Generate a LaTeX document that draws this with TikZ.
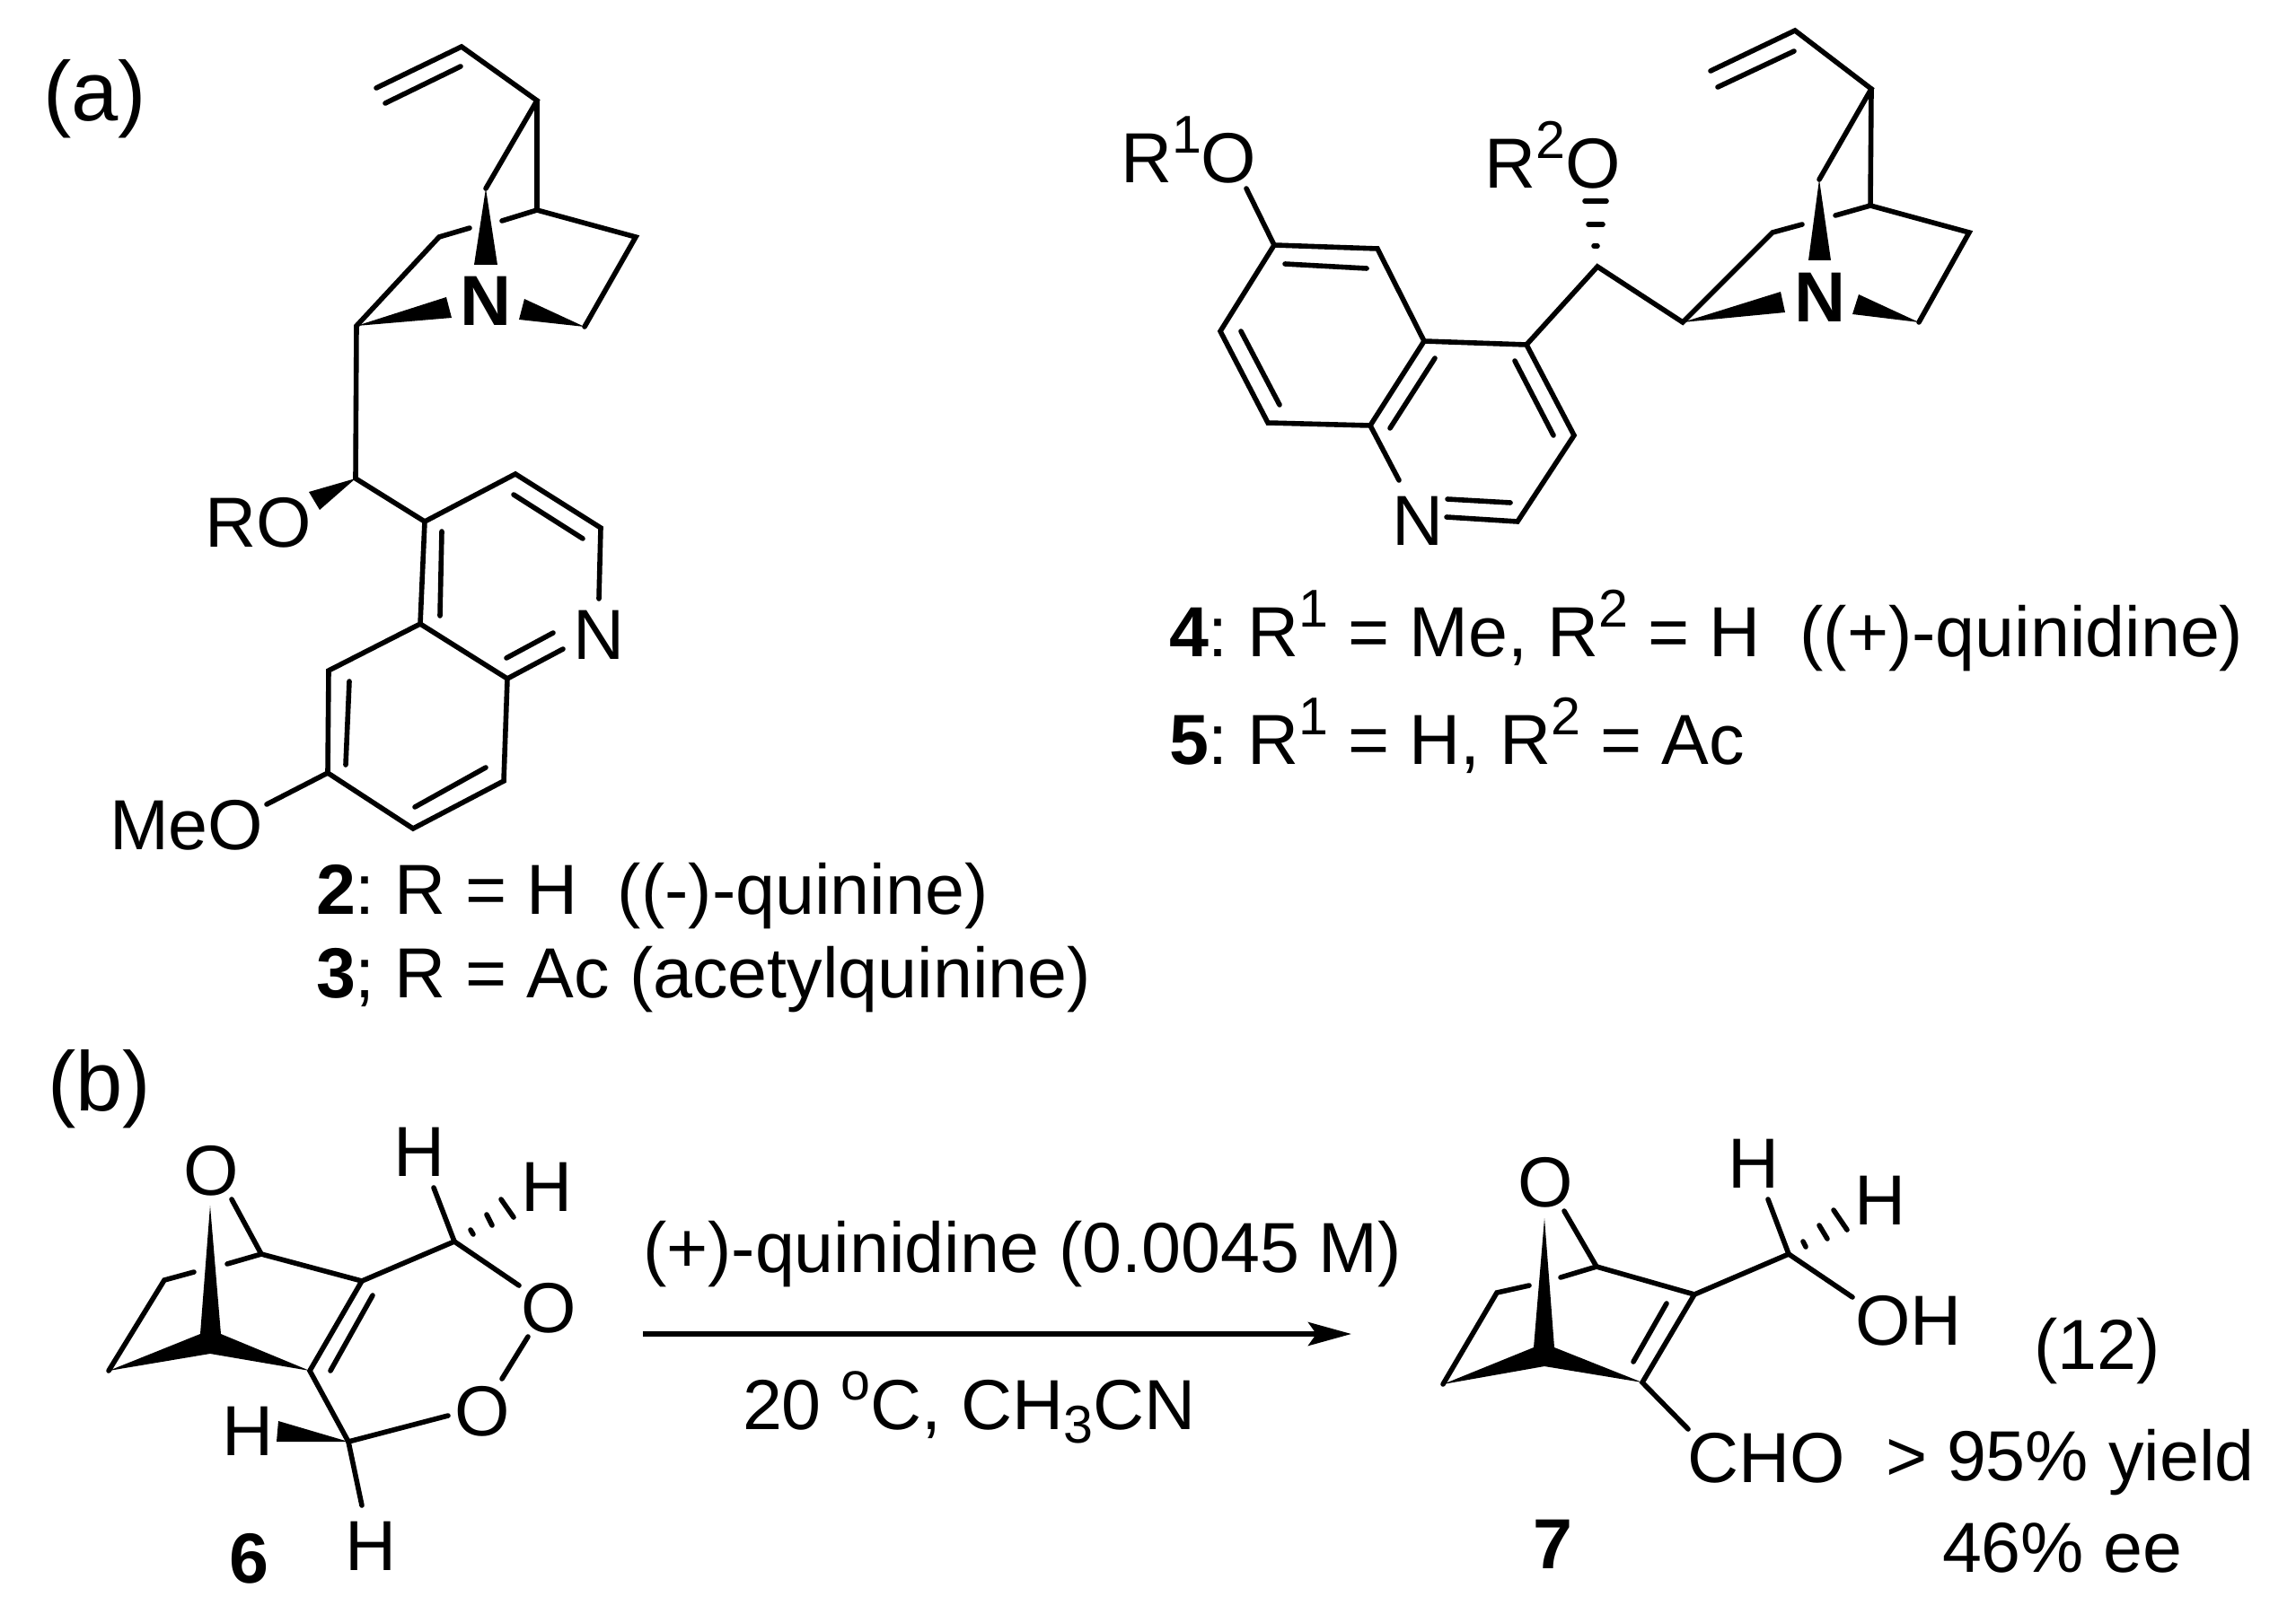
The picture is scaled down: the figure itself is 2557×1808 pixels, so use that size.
\documentclass[tikz,border=0pt]{standalone}
\usepackage{fontspec}
\setmainfont{Liberation Sans}
\usetikzlibrary{arrows.meta}
\frenchspacing\sfcode`\;=1500
\newcommand{\spr}[1]{\raisebox{16.5pt}{\fontsize{29.6}{30}\selectfont #1}}
\newcommand{\sbr}[1]{\raisebox{-7.5pt}{\fontsize{29.6}{30}\selectfont #1}}
\tikzset{
  lbl/.style={anchor=base west,inner sep=0pt,outer sep=0pt,font=\fontsize{39.5}{40}\selectfont},
  big/.style={lbl,font=\fontsize{47}{48}\selectfont},
  bond/.style={line width=2.8pt,line cap=round,line join=miter},
  hashb/.style={line width=2.8pt,line cap=round},
  wedge/.style={fill=black,draw=none},
  rxn/.style={line width=3pt,-{Stealth[length=24pt,width=13pt,inset=4.5pt]}}
}
\begin{document}
\begin{tikzpicture}[x=0.5pt,y=-0.5pt]
\useasboundingbox (0,0) rectangle (2557,1808);
\fill[white] (0,0) rectangle (2557,1808);
% ---------- text
\node[big] (la) at (48,135) {(a)};
\node[big] (lb) at (53,1237) {(b)};
\node[lbl] (cap2) at (352,1018) {\textbf{2}: R = H\ \ ((-)-quinine)};
\node[lbl] (cap3) at (352,1111) {\textbf{3}; R = Ac (acetylquinine)};
\node[lbl] (cap4) at (1302,731) {\textbf{4}: R\spr{1} = Me, R\spr{2} = H\ \ ((+)-quinidine)};
\node[lbl] (cap5) at (1302,851) {\textbf{5}: R\spr{1} = H, R\spr{2} = Ac};
\node[lbl] (cond1) at (716,1417) {(+)-quinidine (0.0045 M)};
\node[lbl] (cond2) at (827,1592) {20 \spr{o}C, CH\sbr{3}CN};
\node[lbl] (eq) at (2265,1525) {(12)};
\node[lbl] (yield) at (2100,1649) {> 95\% yield};
\node[lbl] (ee) at (2163,1751) {46\% ee};
% ---------- compound 2/3
\node[lbl] (aN) at (512,363) {\textbf{N}};
\node[lbl] (aRO) at (228,609) {RO};
\node[lbl] (aNp) at (638,734) {N};
\node[lbl] (aMeO) at (122,946) {MeO};
\coordinate (v1) at (419,98);
\coordinate (v2) at (514,52);
\coordinate (v1i) at (429,115);
\coordinate (v2i) at (513,74);
\coordinate (c3) at (598,112);
\coordinate (c7) at (541,210);
\coordinate (c4) at (598,234);
\coordinate (c4g) at (559,246);
\coordinate (c5) at (708,264);
\coordinate (c6) at (651,364);
\coordinate (c8) at (489,264);
\coordinate (c8g) at (523,254);
\coordinate (c2) at (397,363);
\coordinate (ch) at (396,533);
\coordinate (ra) at (473,581);
\coordinate (rb) at (574,528);
\coordinate (rc) at (669,588);
\coordinate (rcN) at (667,667);
\coordinate (rd) at (468,695);
\coordinate (re) at (565,756);
\coordinate (reN) at (627,723);
\coordinate (ri) at (561,870);
\coordinate (rh) at (460,923);
\coordinate (rg) at (365,861);
\coordinate (rf) at (366,747);
\coordinate (rgO) at (297,896);
\draw[bond] (v1) -- (v2) -- (c3) -- (c7);
\draw[bond] (v1i) -- (v2i);
\draw[bond] (c3) -- (c4) -- (c5) -- (c6);
\draw[bond] (c4) -- (c4g);
\draw[bond] (c8g) -- (c8) -- (c2) -- (ch) -- (ra) -- (rb) -- (rc) -- (rcN);
\draw[bond] (ra) -- (rd) -- (re) -- (ri) -- (rh) -- (rg) -- (rf) -- (rd);
\draw[bond] (re) -- (reN);
\draw[bond] (rg) -- (rgO);
\draw[bond] (572,551) -- (649,600);
\draw[bond] (492,592) -- (490,686);
\draw[bond] (564,733) -- (616,705);
\draw[bond] (389,759) -- (385,852);
\draw[bond] (462,899) -- (541,855);
\fill[wedge] (c7) -- (528,295) -- (554,295) -- cycle;
\fill[wedge] (c2) -- (497,331) -- (503,354) -- cycle;
\fill[wedge] (c6) -- (584,333) -- (578,356) -- cycle;
\fill[wedge] (ch) -- (344,548) -- (356,568) -- cycle;
% ---------- compound 4/5
\node[lbl] (bN) at (1998,358) {\textbf{N}};
\node[lbl] (bR1O) at (1248,204) {R\spr{1}O};
\node[lbl] (bR2O) at (1653,210) {R\spr{2}O};
\node[lbl] (bNp) at (1550,607) {N};
\coordinate (w1) at (1905,79);
\coordinate (w2) at (1999,34);
\coordinate (w1i) at (1913,97);
\coordinate (w2i) at (1998,57);
\coordinate (d3) at (2084,99);
\coordinate (d7) at (2026,200);
\coordinate (d4) at (2083,229);
\coordinate (d4g) at (2044,240);
\coordinate (d5) at (2193,259);
\coordinate (d6) at (2137,359);
\coordinate (d8) at (1974,259);
\coordinate (d8g) at (2007,250);
\coordinate (d2) at (1874,359);
\coordinate (dh) at (1779,297);
\coordinate (p1) at (1419,273);
\coordinate (p1O) at (1388,210);
\coordinate (p2) at (1534,277);
\coordinate (p3) at (1586,380);
\coordinate (p4) at (1526,474);
\coordinate (p4N) at (1558,535);
\coordinate (p5) at (1412,471);
\coordinate (p6) at (1359,369);
\coordinate (p7) at (1700,384);
\coordinate (p8) at (1753,485);
\coordinate (p9) at (1690,581);
\coordinate (p9N) at (1611,576);
\draw[bond] (w1) -- (w2) -- (d3) -- (d7);
\draw[bond] (w1i) -- (w2i);
\draw[bond] (d3) -- (d4) -- (d5) -- (d6);
\draw[bond] (d4) -- (d4g);
\draw[bond] (d8g) -- (d8) -- (d2) -- (dh) -- (p7) -- (p8) -- (p9) -- (p9N);
\draw[bond] (p7) -- (p3) -- (p2) -- (p1) -- (p6) -- (p5) -- (p4) -- (p3);
\draw[bond] (p4) -- (p4N);
\draw[bond] (p1) -- (p1O);
\draw[bond] (1431,294) -- (1522,299);
\draw[bond] (1382,369) -- (1425,451);
\draw[bond] (1598,399) -- (1548,477);
\draw[bond] (1687,402) -- (1730,485);
\draw[bond] (1612,556) -- (1682,560);
\fill[wedge] (d7) -- (2014,290) -- (2039,290) -- cycle;
\fill[wedge] (d2) -- (1983,325) -- (1988,348) -- cycle;
\fill[wedge] (d6) -- (2070,328) -- (2063,350) -- cycle;
\draw[hashb] (1775,274) -- (1779,274);
\draw[hashb] (1769,250) -- (1785,250);
\draw[hashb] (1765,224) -- (1789,224);
% ---------- arrow
\coordinate (arS) at (716,1486);
\coordinate (arE) at (1505,1486);
\draw[rxn] (arS) -- (arE);
% ---------- compound 6
\node[lbl] (cO) at (204,1331) {O};
\node[lbl] (cH1) at (438,1310) {H};
\node[lbl] (cH2) at (580,1349) {H};
\node[lbl] (cO1) at (580,1484) {O};
\node[lbl] (cO2) at (506,1599) {O};
\node[lbl] (cH3) at (247,1621) {H};
\node[lbl] (cH4) at (384,1749) {H};
\node[lbl] (c6n) at (255,1763) {\textbf{6}};
\coordinate (s1) at (121,1527);
\coordinate (s2) at (183,1426);
\coordinate (s2g) at (216,1417);
\coordinate (s3) at (291,1397);
\coordinate (s3g) at (253,1408);
\coordinate (s3O) at (258,1336);
\coordinate (s4) at (403,1427);
\coordinate (s5) at (345,1527);
\coordinate (s6) at (506,1383);
\coordinate (s6H) at (483,1323);
\coordinate (s6O) at (578,1432);
\coordinate (s7) at (388,1606);
\coordinate (s7O) at (499,1577);
\coordinate (s7H) at (403,1677);
\coordinate (ooA) at (588,1489);
\coordinate (ooB) at (559,1536);
\fill[wedge] (234,1343) -- (246,1486) -- (s5) -- (234,1508) -- (s1) -- (223,1486) -- cycle;
\draw[bond] (s1) -- (s2) -- (s2g);
\draw[bond] (s3g) -- (s3) -- (s4) -- (s5) -- (s7) -- (s7O);
\draw[bond] (s3O) -- (s3);
\draw[bond] (s4) -- (s6) -- (s6O);
\draw[bond] (s6) -- (s6H);
\draw[bond] (s7) -- (s7H);
\draw[bond] (ooA) -- (ooB);
\draw[bond] (415,1443) -- (368,1527);
\fill[wedge] (s7) -- (310,1583) -- (308,1606) -- cycle;
\draw[hashb] (524,1370) -- (527,1375);
\draw[hashb] (542,1353) -- (548,1365);
\draw[hashb] (558,1336) -- (572,1356);
% ---------- compound 7
\node[lbl] (tO) at (1690,1344) {O};
\node[lbl] (tH1) at (1924,1323) {H};
\node[lbl] (tH2) at (2065,1364) {H};
\node[lbl] (tOH) at (2066,1498) {OH};
\node[lbl] (tCHO) at (1879,1651) {CHO};
\node[lbl] (t7n) at (1707,1747) {\textbf{7}};
\coordinate (t1) at (1607,1542);
\coordinate (t2) at (1667,1440);
\coordinate (t2g) at (1703,1432);
\coordinate (t3) at (1778,1411);
\coordinate (t3g) at (1738,1423);
\coordinate (t3O) at (1742,1349);
\coordinate (t4) at (1887,1442);
\coordinate (t5) at (1829,1540);
\coordinate (t6) at (1992,1397);
\coordinate (t6H) at (1969,1336);
\coordinate (t6O) at (2063,1445);
\coordinate (t5C) at (1880,1592);
\fill[wedge] (1720,1357) -- (1731,1501) -- (t5) -- (1720,1522) -- (t1) -- (1708,1501) -- cycle;
\draw[bond] (t1) -- (t2) -- (t2g);
\draw[bond] (t3g) -- (t3) -- (t4) -- (t5) -- (t5C);
\draw[bond] (t3O) -- (t3);
\draw[bond] (t4) -- (t6) -- (t6O);
\draw[bond] (t6) -- (t6H);
\draw[bond] (1856,1452) -- (1819,1517);
\draw[hashb] (2008,1383) -- (2011,1389);
\draw[hashb] (2026,1365) -- (2035,1380);
\draw[hashb] (2042,1348) -- (2057,1370);
\end{tikzpicture}
\end{document}
